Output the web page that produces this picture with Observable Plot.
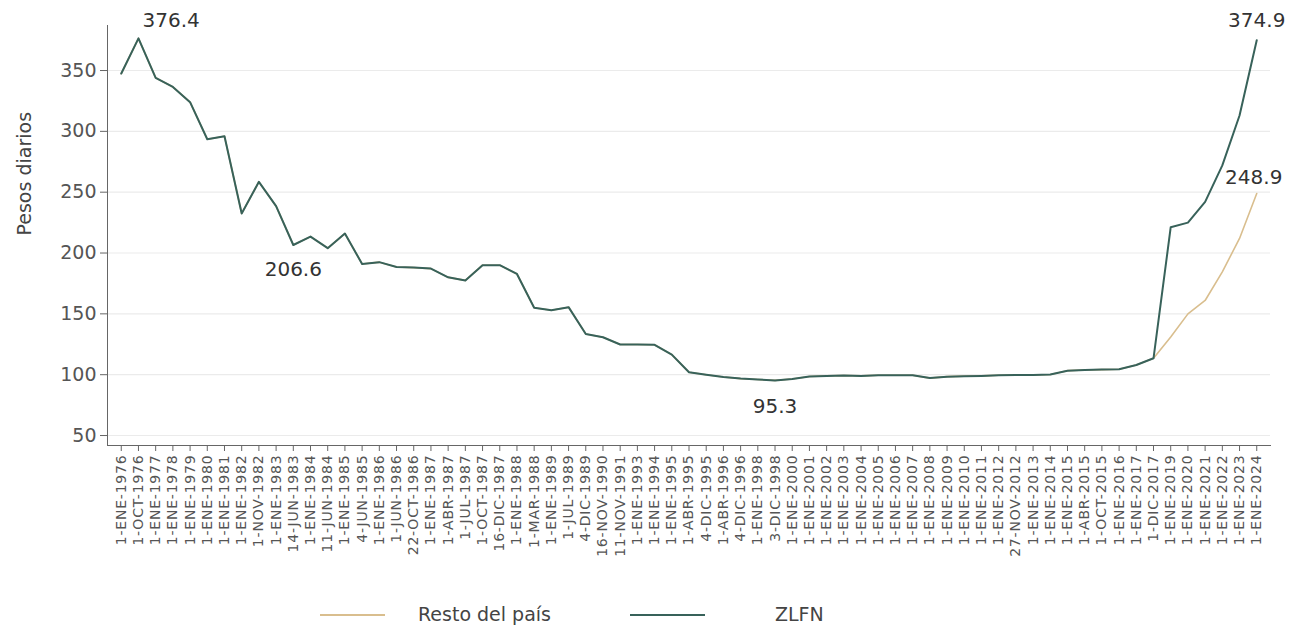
<!DOCTYPE html>
<html><head><meta charset="utf-8">
<script src="https://cdn.jsdelivr.net/npm/d3@7"></script>
<script src="https://cdn.jsdelivr.net/npm/@observablehq/plot@0.6"></script>
<style>
body{margin:0;background:#fff;font-family:"DejaVu Sans",sans-serif;}
#chart svg g[aria-label="x-axis tick label"] text{letter-spacing:0.8px;}
#legend{position:relative;height:40px;width:1299px;}
#legend .ln{position:absolute;top:24px;height:2px;}
#legend .tx{position:absolute;top:13px;font-size:19px;color:#444;line-height:22px;}
</style></head><body><div id="chart"></div><div id="legend"></div>
<script>
const categories = ["1-ENE-1976","1-OCT-1976","1-ENE-1977","1-ENE-1978","1-ENE-1979","1-ENE-1980","1-ENE-1981","1-ENE-1982","1-NOV-1982","1-ENE-1983","14-JUN-1983","1-ENE-1984","11-JUN-1984","1-ENE-1985","4-JUN-1985","1-ENE-1986","1-JUN-1986","22-OCT-1986","1-ENE-1987","1-ABR-1987","1-JUL-1987","1-OCT-1987","16-DIC-1987","1-ENE-1988","1-MAR-1988","1-ENE-1989","1-JUL-1989","4-DIC-1989","16-NOV-1990","11-NOV-1991","1-ENE-1993","1-ENE-1994","1-ENE-1995","1-ABR-1995","4-DIC-1995","1-ABR-1996","4-DIC-1996","1-ENE-1998","3-DIC-1998","1-ENE-2000","1-ENE-2001","1-ENE-2002","1-ENE-2003","1-ENE-2004","1-ENE-2005","1-ENE-2006","1-ENE-2007","1-ENE-2008","1-ENE-2009","1-ENE-2010","1-ENE-2011","1-ENE-2012","27-NOV-2012","1-ENE-2013","1-ENE-2014","1-ENE-2015","1-ABR-2015","1-OCT-2015","1-ENE-2016","1-ENE-2017","1-DIC-2017","1-ENE-2019","1-ENE-2020","1-ENE-2021","1-ENE-2022","1-ENE-2023","1-ENE-2024"];
const zlfn = [347.5,376.4,344,336.5,324,293.5,296,232.5,258.5,238.5,206.6,213.5,204,216,191,192.5,188.5,188,187.2,180,177.5,190,190,182.8,155,153,155.5,133.5,130.8,124.8,124.8,124.6,116.5,102,100,98.1,96.8,96,95.3,96.5,98.5,99,99.3,99,99.5,99.5,99.6,97.2,98.4,98.8,99,99.5,99.8,99.8,100.2,103.3,103.8,104.2,104.5,108,113.5,221.2,225,242,272,313,374.9];
const resto = [347.5,376.4,344,336.5,324,293.5,296,232.5,258.5,238.5,206.6,213.5,204,216,191,192.5,188.5,188,187.2,180,177.5,190,190,182.8,155,153,155.5,133.5,130.8,124.8,124.8,124.6,116.5,102,100,98.1,96.8,96,95.3,96.5,98.5,99,99.3,99,99.5,99.5,99.6,97.2,98.4,98.8,99,99.5,99.8,99.8,100.2,103.3,103.8,104.2,104.5,108,113.5,131,150,161,184.5,212,248.9];
const seriesNames = ["Resto del país","ZLFN"];
const seriesColors = ["#D9BE8E","#38625A"];
const yTicks = [50,100,150,200,250,300,350];
const yLabel = "Pesos diarios";

const rowsResto = categories.map((c,i)=>({cat:c, v:resto[i], s:seriesNames[0]}));
const rowsZ = categories.map((c,i)=>({cat:c, v:zlfn[i], s:seriesNames[1]}));
const fmt = d => d.v.toFixed(1);
const maxZ = rowsZ[d3.maxIndex(zlfn.slice(0,10))];
const minZ = rowsZ[d3.minIndex(zlfn)];
const ann206 = rowsZ[10];
const lastZ = rowsZ[rowsZ.length-1];
const lastR = rowsResto[rowsResto.length-1];

const plot = Plot.plot({
  width:1299, height:590,
  marginLeft:107, marginRight:29, marginTop:25, marginBottom:145,
  style:{fontFamily:"DejaVu Sans, sans-serif", background:"#fff", color:"#555"},
  x:{type:"point", domain:categories, padding:0.8, round:false},
  y:{domain:[41.8,387]},
  marks:[
    Plot.gridY(yTicks,{stroke:"#ebebeb", strokeOpacity:1, strokeWidth:1.2}),
    Plot.frame({anchor:"left", stroke:"#666"}),
    Plot.frame({anchor:"bottom", stroke:"#666"}),
    Plot.axisY(yTicks,{tickSize:7, tickPadding:4, fontSize:19, label:null, stroke:"#666", fill:"#555"}),
    Plot.text([yLabel],{frameAnchor:"left", dx:-83, rotate:-90, fontSize:19, fill:"#444"}),
    Plot.axisX({tickRotate:-90, fontSize:14, tickSize:6, tickPadding:3, label:null, stroke:"#666", fill:"#555"}),
    Plot.line(rowsResto,{x:"cat", y:"v", stroke:seriesColors[0], strokeWidth:1.6}),
    Plot.line(rowsZ,{x:"cat", y:"v", stroke:seriesColors[1], strokeWidth:2}),
    Plot.text([maxZ],{x:"cat", y:"v", text:fmt, textAnchor:"start", dx:4, dy:-18, fontSize:20, fill:"#333"}),
    Plot.text([ann206],{x:"cat", y:"v", text:fmt, dy:25, fontSize:20, fill:"#333"}),
    Plot.text([minZ],{x:"cat", y:"v", text:fmt, dy:26, fontSize:20, fill:"#333"}),
    Plot.text([lastZ],{x:"cat", y:"v", text:fmt, dy:-20, fontSize:20, fill:"#333"}),
    Plot.text([lastR],{x:"cat", y:"v", text:fmt, dy:-16, dx:-3, fontSize:20, fill:"#333"})
  ]
});
document.getElementById("chart").appendChild(plot);

const legend = document.getElementById("legend");
const legendPos = [[320,65,418],[630,75,775]];
seriesNames.forEach((n,i)=>{
  const ln = document.createElement("div");
  ln.className="ln"; ln.style.left=legendPos[i][0]+"px"; ln.style.width=legendPos[i][1]+"px"; ln.style.background=seriesColors[i];
  const tx = document.createElement("div");
  tx.className="tx"; tx.style.left=legendPos[i][2]+"px"; tx.textContent=n;
  legend.appendChild(ln); legend.appendChild(tx);
});
</script></body></html>
